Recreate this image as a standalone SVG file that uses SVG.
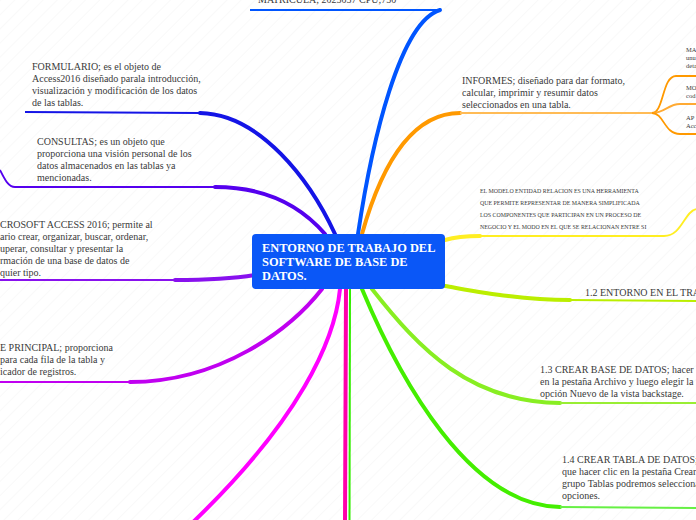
<svg xmlns="http://www.w3.org/2000/svg" width="696" height="520" viewBox="0 0 696 520">
<defs>
<pattern id="hatch" width="10" height="10" patternUnits="userSpaceOnUse" patternTransform="rotate(45)">
<line x1="0" y1="0" x2="0" y2="10" stroke="#f3f3f3" stroke-width="1"/>
</pattern>
</defs>
<style>
.t{font-family:"Liberation Serif","Times New Roman",serif;font-size:10px;fill:#3a3a3a}
.s{font-family:"Liberation Serif","Times New Roman",serif;font-size:5.9px;fill:#3a3a3a}
.xs{font-family:"Liberation Serif","Times New Roman",serif;font-size:6.5px;fill:#3a3a3a}
.c{fill:none;stroke-width:4;stroke-linecap:round}
.h{fill:none;stroke-width:1.8}
.ctr{font-family:"Liberation Serif","Times New Roman",serif;font-size:12.4px;font-weight:bold;fill:#ffffff}
</style>
<rect width="696" height="520" fill="#ffffff"/>
<rect width="696" height="520" fill="url(#hatch)"/>
<g id="connectors">
<path class="c" stroke="#0055ff" d="M358,234 C372,140 400,22 440,10"/>
<path class="h" stroke="#0055ff" d="M440,10 L250,10"/>
<path class="c" stroke="#1414e6" d="M335,234 C310,180 260,114 200,113"/>
<path class="h" stroke="#1414e6" d="M200,113 L25,112"/>
<path class="c" stroke="#5500ee" d="M325,234 C300,205 265,187 215,187"/>
<path class="h" stroke="#5500ee" d="M215,187 L15,187 C8,187 4,178 0,170"/>
<path class="c" stroke="#8811ee" d="M255,275 C230,279 205,280 175,280"/>
<path class="h" stroke="#8811ee" d="M175,280 L0,280"/>
<path class="c" stroke="#c000f0" d="M322,289 C290,330 220,382 130,382"/>
<path class="h" stroke="#c000f0" d="M130,382 L0,382"/>
<path class="c" stroke="#ff00ff" stroke-width="5" d="M340,289 C335,340 300,420 190,525"/>
<path class="c" stroke="#ff00aa" stroke-width="6" d="M346,289 L345,525"/>
<path fill="none" stroke="#33ee00" stroke-width="2" d="M350,289 L349.5,525"/>
<path class="c" stroke="#44ee00" d="M362,289 C400,380 470,506 560,507"/>
<path class="h" stroke="#66f044" d="M560,507 L696,508"/>
<path class="c" stroke="#88ee22" d="M372,289 C420,350 470,402 560,403"/>
<path class="h" stroke="#99ee33" d="M560,403 L696,403"/>
<path class="c" stroke="#bbee00" d="M445,286 C480,292 520,300 570,300"/>
<path class="h" stroke="#bbee00" d="M570,300 L696,301"/>
<path class="c" stroke="#ffee22" d="M445,240 C455,237 465,236 480,236"/>
<path class="h" stroke="#ffee22" d="M480,236 L664,236 C682,236 684,212 696,209"/>
<path class="c" stroke="#ff9900" d="M362,234 C380,170 410,113 460,113"/>
<path class="h" stroke="#ffbb55" stroke-width="2.2" d="M460,113 L652,113"/>
<path class="h" stroke="#ff9900" stroke-width="1.4" d="M652,113 C664,113 662,76 676,76 L696,76"/>
<path class="h" stroke="#ffaa33" stroke-width="1.4" d="M652,113 C665,113 668,104 680,104 L696,104"/>
<path class="h" stroke="#ff9900" stroke-width="1.4" d="M652,113 C664,113 664,134 680,134 L696,134"/>
</g>
<g id="center">
<rect x="252" y="234" width="193" height="55" rx="4" fill="#0a57f7"/>
<text class="ctr" x="262" y="252">ENTORNO DE TRABAJO DEL</text>
<text class="ctr" x="262" y="266">SOFTWARE DE BASE DE</text>
<text class="ctr" x="262" y="280">DATOS.</text>
</g>
<g id="matricula">
<text class="t" x="258" y="3">MATRICULA; 2025057 CPU;750</text>
</g>
<g id="formulario">
<text class="t" x="32" y="70">FORMULARIO; es el objeto de</text>
<text class="t" x="32" y="82">Access2016 diseñado parala introducción,</text>
<text class="t" x="32" y="94">visualización y modificación de los datos</text>
<text class="t" x="32" y="106">de las tablas.</text>
</g>
<g id="consultas">
<text class="t" x="37" y="145">CONSULTAS; es un objeto que</text>
<text class="t" x="37" y="157">proporciona una visión personal de los</text>
<text class="t" x="37" y="169">datos almacenados en las tablas ya</text>
<text class="t" x="37" y="181">mencionadas.</text>
</g>
<g id="microsoft">
<text class="t" x="0" y="228">CROSOFT ACCESS 2016; permite al</text>
<text class="t" x="0" y="240">ario crear, organizar, buscar, ordenar,</text>
<text class="t" x="0" y="252">uperar, consultar y presentar la</text>
<text class="t" x="0" y="264">rmación de una base de datos de</text>
<text class="t" x="0" y="276">quier tipo.</text>
</g>
<g id="clave">
<text class="t" x="0" y="351">E PRINCIPAL; proporciona</text>
<text class="t" x="0" y="363">para cada fila de la tabla y</text>
<text class="t" x="0" y="375">icador de registros.</text>
</g>
<g id="informes">
<text class="t" x="462" y="84">INFORMES; diseñado para dar formato,</text>
<text class="t" x="462" y="96">calcular, imprimir y resumir datos</text>
<text class="t" x="462" y="108">seleccionados en una tabla.</text>
</g>
<g id="macros">
<text class="xs" x="686" y="52">MA</text>
<text class="xs" x="686" y="60">unu</text>
<text class="xs" x="686" y="68">deta</text>
</g>
<g id="modulos">
<text class="xs" x="686" y="90">MO</text>
<text class="xs" x="686" y="98">cod</text>
</g>
<g id="aplicaciones">
<text class="xs" x="686" y="120">AP</text>
<text class="xs" x="686" y="128">Acc</text>
</g>
<g id="modelo">
<text class="s" x="480" y="193">EL MODELO ENTIDAD RELACION ES UNA HERRAMIENTA</text>
<text class="s" x="480" y="205">QUE PERMITE REPRESENTAR DE MANERA SIMPLIFICADA</text>
<text class="s" x="480" y="217">LOS COMPONENTES QUE PARTICIPAN EN UN PROCESO DE</text>
<text class="s" x="480" y="229">NEGOCIO Y EL MODO EN EL QUE SE RELACIONAN ENTRE SI</text>
</g>
<g id="entorno">
<text class="t" x="585" y="296">1.2 ENTORNO EN EL TRA</text>
</g>
<g id="crearbase">
<text class="t" x="540" y="373">1.3 CREAR BASE DE DATOS; hacer</text>
<text class="t" x="540" y="385">en la pestaña Archivo y luego elegir la</text>
<text class="t" x="540" y="397">opción Nuevo de la vista backstage.</text>
</g>
<g id="creartabla">
<text class="t" x="562" y="463">1.4 CREAR TABLA DE DATOS;</text>
<text class="t" x="562" y="475">que hacer clic en la pestaña Crear</text>
<text class="t" x="562" y="487">grupo Tablas podremos selecciona</text>
<text class="t" x="562" y="499">opciones.</text>
</g>
</svg>
